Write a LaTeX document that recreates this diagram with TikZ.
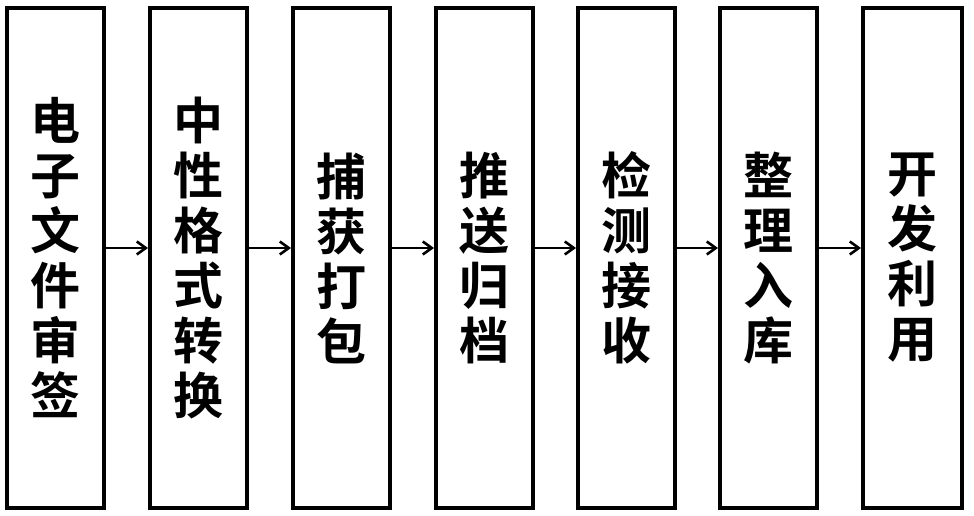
\documentclass[tikz,border=0pt]{standalone}
\usepackage{fontspec}
\newfontfamily\cjk{Noto Sans CJK SC Bold}
\usetikzlibrary{arrows.meta}
\begin{document}
\begin{tikzpicture}[x=1pt,y=1pt,
  stagebox/.style={draw=black,line width=4pt,minimum width=97pt,minimum height=500pt,
    inner sep=0pt,align=center,font=\cjk\fontsize{50}{55}\selectfont},
  flowarrow/.style={line width=2.6pt,-{Straight Barb[length=9pt,width=13pt,line width=2.6pt]}}]
\useasboundingbox (0,0) rectangle (974,516);
\node[stagebox] (s1) at (55.5,258) {电\\子\\文\\件\\审\\签};
\node[stagebox] (s2) at (198.5,258) {中\\性\\格\\式\\转\\换};
\node[stagebox] (s3) at (341.5,258) {捕\\获\\打\\包};
\node[stagebox] (s4) at (484.5,258) {推\\送\\归\\档};
\node[stagebox] (s5) at (626.5,258) {检\\测\\接\\收};
\node[stagebox] (s6) at (768.5,258) {整\\理\\入\\库};
\node[stagebox,minimum width=99pt] (s7) at (912.5,258) {开\\发\\利\\用};
\foreach \a/\b in {s1/s2,s2/s3,s3/s4,s4/s5,s5/s6,s6/s7}
  \draw[flowarrow] ([yshift=10pt]\a.east) -- ([yshift=10pt]\b.west);
\end{tikzpicture}
\end{document}
